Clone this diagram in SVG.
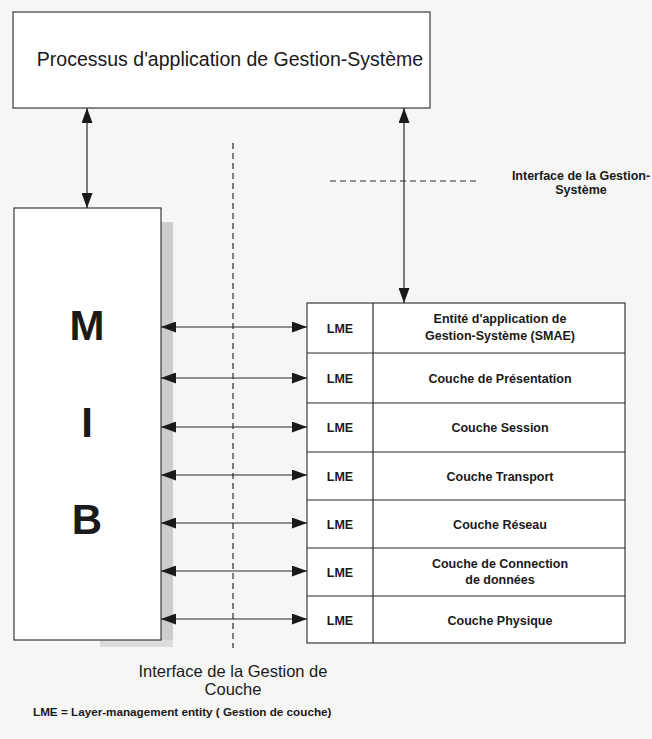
<svg xmlns="http://www.w3.org/2000/svg" width="652" height="739" viewBox="0 0 652 739">
  <style>
    .box { fill: #ffffff; stroke: #3a3a3a; stroke-width: 1.2; }
    .line { stroke: #2a2a2a; stroke-width: 1.2; fill: none; }
    .dash { stroke: #2a2a2a; stroke-width: 1.2; fill: none; stroke-dasharray: 6 4; }
    .t { font-family: "Liberation Sans", Arial, sans-serif; fill: #1a1a1a; }
    .small { font-size: 12.5px; font-weight: bold; text-anchor: middle; }
    .big { font-size: 42px; font-weight: bold; text-anchor: middle; }
  </style>
  <defs>
    <marker id="arrow" viewBox="0 0 15 11" refX="15" refY="5.5" markerWidth="15" markerHeight="11" markerUnits="userSpaceOnUse" orient="auto-start-reverse">
      <path d="M0,0 L15,5.5 L0,11 Z" fill="#1a1a1a"/>
    </marker>
  </defs>

  <rect width="652" height="739" fill="#f6f6f4"/>

  <!-- Top process box -->
  <g id="process">
    <rect class="box" x="13" y="12" width="417" height="96"/>
    <text class="t" x="230" y="66" font-size="19.5" text-anchor="middle">Processus d'application de Gestion-Système</text>
  </g>

  <!-- MIB box with its shadow -->
  <g id="mib">
    <rect x="161" y="222" width="12" height="425" fill="#cdcdcd"/>
    <rect x="100" y="640" width="73" height="7" fill="#dcdcdc"/>
    <rect class="box" x="14" y="208" width="147" height="432"/>
    <text class="t big" x="87" y="340">M</text>
    <text class="t big" x="87" y="437">I</text>
    <text class="t big" x="87" y="534">B</text>
  </g>

  <!-- Layer table -->
  <g id="layers">
    <rect class="box" x="307" y="303" width="318" height="340"/>
    <line class="line" x1="373" y1="303" x2="373" y2="643"/>
    <line class="line" x1="307" y1="353" x2="625" y2="353"/>
    <line class="line" x1="307" y1="403" x2="625" y2="403"/>
    <line class="line" x1="307" y1="452" x2="625" y2="452"/>
    <line class="line" x1="307" y1="500" x2="625" y2="500"/>
    <line class="line" x1="307" y1="548" x2="625" y2="548"/>
    <line class="line" x1="307" y1="596" x2="625" y2="596"/>
  </g>
  <g id="lme-smae">
    <text class="t small" x="340" y="333">LME</text>
    <text class="t small" x="500" y="323">Entité d'application de</text>
    <text class="t small" x="500" y="340">Gestion-Système (SMAE)</text>
  </g>
  <g id="lme-presentation">
    <text class="t small" x="340" y="383">LME</text>
    <text class="t small" x="500" y="383">Couche de Présentation</text>
  </g>
  <g id="lme-session">
    <text class="t small" x="340" y="432">LME</text>
    <text class="t small" x="500" y="432">Couche Session</text>
  </g>
  <g id="lme-transport">
    <text class="t small" x="340" y="481">LME</text>
    <text class="t small" x="500" y="481">Couche Transport</text>
  </g>
  <g id="lme-reseau">
    <text class="t small" x="340" y="529">LME</text>
    <text class="t small" x="500" y="529">Couche Réseau</text>
  </g>
  <g id="lme-liaison">
    <text class="t small" x="340" y="577">LME</text>
    <text class="t small" x="500" y="568">Couche de Connection</text>
    <text class="t small" x="500" y="584">de  données</text>
  </g>
  <g id="lme-physique">
    <text class="t small" x="340" y="625">LME</text>
    <text class="t small" x="500" y="625">Couche Physique</text>
  </g>

  <!-- Connectors -->
  <g id="connectors">
    <line class="line" x1="87" y1="108" x2="87" y2="208" marker-start="url(#arrow)" marker-end="url(#arrow)"/>
    <line class="line" x1="404" y1="108" x2="404" y2="303" marker-start="url(#arrow)" marker-end="url(#arrow)"/>
    <line class="line" x1="161" y1="327" x2="307" y2="327" marker-start="url(#arrow)" marker-end="url(#arrow)"/>
    <line class="line" x1="161" y1="378" x2="307" y2="378" marker-start="url(#arrow)" marker-end="url(#arrow)"/>
    <line class="line" x1="161" y1="427" x2="307" y2="427" marker-start="url(#arrow)" marker-end="url(#arrow)"/>
    <line class="line" x1="161" y1="475" x2="307" y2="475" marker-start="url(#arrow)" marker-end="url(#arrow)"/>
    <line class="line" x1="161" y1="523" x2="307" y2="523" marker-start="url(#arrow)" marker-end="url(#arrow)"/>
    <line class="line" x1="161" y1="571" x2="307" y2="571" marker-start="url(#arrow)" marker-end="url(#arrow)"/>
    <line class="line" x1="161" y1="619" x2="307" y2="619" marker-start="url(#arrow)" marker-end="url(#arrow)"/>
  </g>

  <!-- Interfaces -->
  <g id="layer-interface">
    <line class="dash" x1="233" y1="143" x2="233" y2="648"/>
    <text class="t" x="233" y="677" font-size="16.5" text-anchor="middle">Interface de la Gestion de</text>
    <text class="t" x="233" y="695" font-size="16.5" text-anchor="middle">Couche</text>
  </g>
  <g id="system-interface">
    <line class="dash" x1="330" y1="181" x2="477" y2="181"/>
    <text class="t small" x="581" y="180">Interface de la Gestion-</text>
    <text class="t small" x="581" y="194">Système</text>
  </g>

  <g id="legend">
    <text class="t" x="33" y="716" font-size="11.7" font-weight="bold">LME = Layer-management entity ( Gestion de couche)</text>
  </g>
</svg>
